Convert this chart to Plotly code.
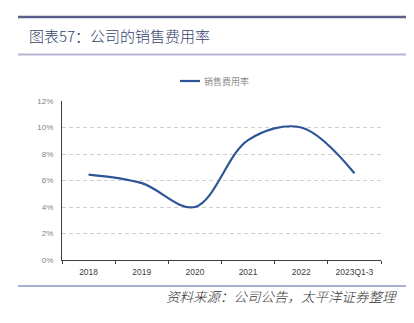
import plotly.graph_objects as go

categories = ["2018", "2019", "2020", "2021", "2022", "2023Q1-3"]
sales_expense_ratio = [0.0645, 0.058, 0.040, 0.0905, 0.100, 0.0655]
series_name = "销售费用率"
title_text = "图表57：公司的销售费用率"
source_text = "资料来源：公司公告，太平洋证券整理"
y_ticks = [0, 0.02, 0.04, 0.06, 0.08, 0.10, 0.12]

W, H = 414, 323
L, R, T, B = 62, 381, 101, 260

def px_x(p):
    return (p - L) / (R - L)

def px_y(p):
    return (B - p) / (B - T)

fig = go.Figure()
fig.add_trace(go.Scatter(
    x=categories, y=sales_expense_ratio, mode="lines", name=series_name,
    line=dict(color="#2f5597", width=2.2, shape="spline", smoothing=1.0),
    showlegend=False,
))

font_cjk = "Noto Sans CJK SC, Noto Sans, sans-serif"

fig.update_layout(
    width=W, height=H,
    margin=dict(l=L, r=W - R, t=T, b=H - B, pad=0),
    paper_bgcolor="white", plot_bgcolor="white",
    font=dict(family=font_cjk, color="#595959", size=8),
    xaxis=dict(
        type="category", range=[-0.5, len(categories) - 0.5],
        showgrid=False, showline=True, linecolor="#404040",
        linewidth=1.2, ticks="outside", ticklen=3, tickcolor="#404040",
        tickson="boundaries", ticklabelstandoff=4,
        tickfont=dict(size=8.5, color="#404040", family="Liberation Sans, Arial"),
        fixedrange=True,
    ),
    yaxis=dict(
        range=[0, 0.12], tickvals=y_ticks, tickformat=".0%",
        showline=True, linecolor="#404040", linewidth=1.2,
        showgrid=True, gridcolor="#cfcfcf", griddash="4px,3px", gridwidth=1,
        zeroline=False, ticks="", ticklabelstandoff=6,
        tickfont=dict(size=8, color="#7f7f7f", family="Liberation Sans, Arial"),
        fixedrange=True,
    ),
)

shapes = [
    dict(type="line", xref="paper", yref="paper", x0=px_x(18), x1=px_x(406),
         y0=px_y(17), y1=px_y(17), line=dict(color="#5b5f8e", width=2.5)),
    dict(type="line", xref="paper", yref="paper", x0=px_x(18), x1=px_x(406),
         y0=px_y(54.5), y1=px_y(54.5), line=dict(color="#b6b8d2", width=2)),
    dict(type="line", xref="paper", yref="paper", x0=px_x(18), x1=px_x(406),
         y0=px_y(286), y1=px_y(286), line=dict(color="#8f94c4", width=1.5)),
    # legend key
    dict(type="line", xref="paper", yref="paper", x0=px_x(180), x1=px_x(200),
         y0=px_y(81), y1=px_y(81), line=dict(color="#2f5597", width=2.2)),
]
fig.update_layout(shapes=shapes)

fig.add_annotation(
    xref="paper", yref="paper", x=px_x(27), y=px_y(35.5), xanchor="left", yanchor="middle",
    text=title_text, showarrow=False,
    font=dict(family=font_cjk, size=15, color="#34446e", weight=300),
)
fig.add_annotation(
    xref="paper", yref="paper", x=px_x(202), y=px_y(81), xanchor="left", yanchor="middle",
    text=series_name, showarrow=False,
    font=dict(family=font_cjk, size=9, color="#8c8c8c"),
)
fig.add_annotation(
    xref="paper", yref="paper", x=px_x(399), y=px_y(296), xanchor="right", yanchor="middle",
    text="<i>" + source_text + "</i>", showarrow=False,
    font=dict(family=font_cjk, size=13.5, color="#333333", weight=300),
)

fig.write_html("out.html")
